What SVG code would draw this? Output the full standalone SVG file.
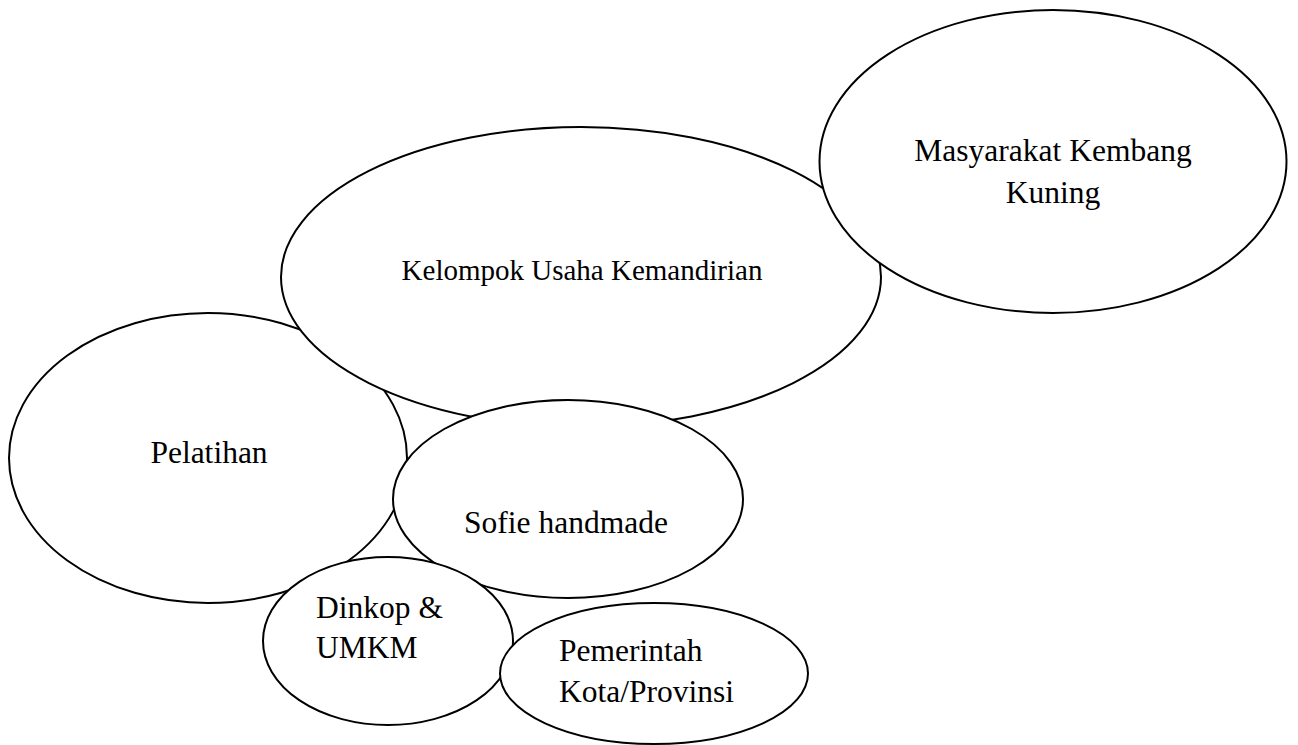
<svg xmlns="http://www.w3.org/2000/svg" width="1298" height="745" viewBox="0 0 1298 745">
<style>
  .node ellipse { fill: #ffffff; stroke: #000000; stroke-width: 2; }
  .node text { font-family: "Liberation Serif", "Times New Roman", serif; font-size: 31.5px; fill: #000000; }
  .c { text-anchor: middle; }
</style>
<rect x="0" y="0" width="1298" height="745" fill="#ffffff"/>
<g id="connectors"></g>
<g id="pelatihan" class="node">
  <ellipse cx="208" cy="458" rx="199" ry="145"/>
  <text class="c" x="209" y="463">Pelatihan</text>
</g>
<g id="kelompok" class="node">
  <ellipse cx="581" cy="277" rx="300" ry="150"/>
  <text class="c" x="582" y="280" style="font-size:29px">Kelompok Usaha Kemandirian</text>
</g>
<g id="masyarakat" class="node">
  <ellipse cx="1053" cy="161.5" rx="233.5" ry="151.5"/>
  <text class="c" x="1053" y="161">Masyarakat Kembang</text>
  <text class="c" x="1053" y="203">Kuning</text>
</g>
<g id="sofie" class="node">
  <ellipse cx="568" cy="499" rx="175" ry="99"/>
  <text class="c" x="566" y="533">Sofie handmade</text>
</g>
<g id="dinkop" class="node">
  <ellipse cx="388" cy="641" rx="125" ry="84"/>
  <text x="316" y="618">Dinkop &amp;</text>
  <text x="316" y="658">UMKM</text>
</g>
<g id="pemerintah" class="node">
  <ellipse cx="654" cy="673.5" rx="154" ry="70.5"/>
  <text x="559" y="661">Pemerintah</text>
  <text x="559" y="702">Kota/Provinsi</text>
</g>
</svg>
